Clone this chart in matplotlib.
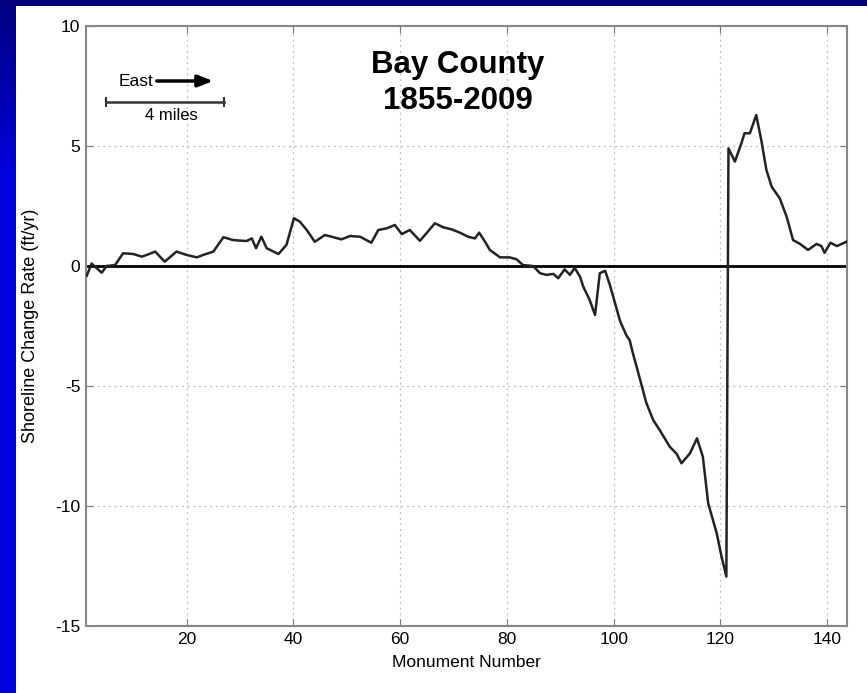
import numpy as np
import matplotlib
matplotlib.use("Agg")
import matplotlib.pyplot as plt

# Data
monument = [1.3, 2.2, 4.1, 5.0, 6.6, 8.1, 10.0, 11.6, 12.5, 14.1, 15.9, 18.1, 20.0, 21.9,
            23.1, 25.0, 26.9, 28.7, 31.2, 32.2, 33.0, 34.0, 35.0, 37.2, 38.7, 40.1, 41.2,
            42.5, 44.0, 45.9, 47.5, 49.0, 50.6, 52.5, 54.6, 55.9, 57.5, 59.0, 60.3, 61.8,
            63.7, 64.9, 66.5, 68.1, 69.6, 71.2, 72.7, 74.0, 74.8, 75.9, 76.8, 78.7, 80.5,
            81.8, 83.0, 84.9, 86.2, 87.4, 88.7, 89.6, 90.8, 91.8, 92.7, 93.7, 94.3, 95.5,
            96.5, 97.4, 98.4, 99.3, 101.2, 102.4, 103.0, 103.6, 104.9, 106.1, 107.4, 108.6,
            110.5, 111.8, 112.7, 114.3, 115.6, 116.7, 117.7, 119.3, 120.2, 121.1,
            121.5, 122.7, 123.9, 124.5, 125.5, 126.7, 127.7, 128.6, 129.6, 131.1, 132.4,
            133.6, 134.9, 136.4, 138.0, 138.9, 139.5, 140.6, 141.8, 143.6]
rate = [-0.40, 0.10, -0.28, 0.00, 0.04, 0.53, 0.50, 0.39, 0.46, 0.60, 0.18, 0.60, 0.46, 0.36,
        0.46, 0.60, 1.20, 1.08, 1.04, 1.15, 0.74, 1.22, 0.74, 0.50, 0.88, 1.99, 1.85,
        1.50, 1.01, 1.29, 1.20, 1.11, 1.25, 1.22, 0.97, 1.50, 1.57, 1.71, 1.33, 1.50,
        1.05, 1.36, 1.78, 1.61, 1.53, 1.39, 1.22, 1.15, 1.39, 1.01, 0.67, 0.36, 0.36,
        0.28, 0.04, 0.00, -0.30, -0.37, -0.33, -0.51, -0.14, -0.37, -0.08, -0.45, -0.86, -1.42,
        -2.04, -0.30, -0.20, -0.80, -2.30, -2.90, -3.10, -3.64, -4.70, -5.70, -6.42, -6.83,
        -7.53, -7.83, -8.22, -7.80, -7.18, -7.95, -9.89, -11.14, -12.11, -12.94,
        4.90, 4.35, 5.10, 5.53, 5.53, 6.29, 5.18, 4.00, 3.30, 2.82, 2.05,
        1.08, 0.92, 0.67, 0.92, 0.83, 0.55, 0.97, 0.83, 1.01]

x_ticks = [20, 40, 60, 80, 100, 120, 140]
y_ticks = [-15, -10, -5, 0, 5, 10]
title_text = "Bay County\n1855-2009"
x_label = "Monument Number"
y_label = "Shoreline Change Rate (ft/yr)"

plt.rcParams['font.family'] = ['Liberation Sans', 'DejaVu Sans']
plt.rcParams['axes.unicode_minus'] = False

W, H = 867, 693
fig = plt.figure(figsize=(W / 100, H / 100), dpi=100)
fig.patch.set_facecolor('white')

# blue slide border: left band gradient, top band navy
bg = fig.add_axes([0, 0, 15 / W, 1])
grad = np.linspace(0, 1, 256).reshape(-1, 1)
cols = np.zeros((256, 1, 3))
t = np.clip(grad * 4, 0, 1)
cols[..., 2] = 0.50 + (0.86 - 0.50) * t[::-1]
bg.imshow(cols, aspect='auto', extent=[0, 1, 0, 1], origin='lower')
bg.set_axis_off()
top = fig.add_axes([0, 1 - 6 / H, 1, 6 / H])
top.set_facecolor('#000080')
top.set_xticks([]); top.set_yticks([])
for s in top.spines.values():
    s.set_visible(False)

ax = fig.add_axes([86 / W, 1 - 626 / H, (847 - 86) / W, (626 - 26) / H])
ax.plot(monument, rate, color='#222222', lw=1.8, zorder=3)
ax.axhline(0, color='black', lw=2.0, zorder=2)
ax.set_xlim(1.15, 143.7)
ax.set_ylim(-15, 10)
ax.set_xticks(x_ticks)
ax.set_yticks(y_ticks)
ax.grid(True, linestyle=(0, (1.5, 3)), color='#bbbbbb', lw=0.9)
ax.tick_params(direction='in', length=5, color='#777777', labelsize=12.5,
               top=True, right=True, pad=4)
for s in ax.spines.values():
    s.set_color('#888888')
    s.set_linewidth(1.5)
ax.set_xlabel(x_label, fontsize=12.5, labelpad=6)
ax.set_ylabel(y_label, fontsize=13, labelpad=12)

ax.text(0.489, 0.905, title_text, transform=ax.transAxes, ha='center', va='center',
        fontsize=22.5, fontweight='bold', linespacing=1.22)

# East arrow and scale bar (axes-fraction placement)
def fx(px):
    return (px - 86) / (847 - 86)

def fy(py):
    return 1 - (py - 26) / (626 - 26)

ax.text(fx(136), fy(81), "East", transform=ax.transAxes, ha='center', va='center', fontsize=12.5)
ax.annotate("", xy=(fx(216), fy(81)), xytext=(fx(154), fy(81)),
            xycoords='axes fraction', textcoords='axes fraction',
            arrowprops=dict(arrowstyle='-|>,head_length=0.9,head_width=0.35', color='black', lw=2.5))
ax.plot([fx(106), fx(224)], [fy(102), fy(102)], transform=ax.transAxes, color='#333333', lw=1.8)
for xp in (106, 224):
    ax.plot([fx(xp), fx(xp)], [fy(98), fy(106)], transform=ax.transAxes, color='#333333', lw=1.5)
ax.text(fx(171), fy(116), "4 miles", transform=ax.transAxes, ha='center', va='center', fontsize=12)

fig.savefig("out.png", dpi=100)
